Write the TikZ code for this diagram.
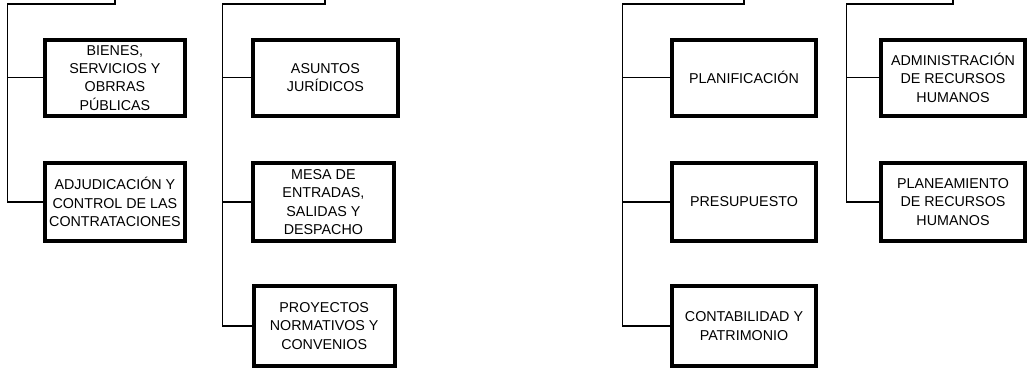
\documentclass[tikz,border=0pt]{standalone}
\usepackage{fontspec}
\setmainfont{Liberation Sans}
\begin{document}
\begin{tikzpicture}[x=1pt,y=1pt,
  unitbox/.style={draw=black, line width=4pt, rectangle, inner sep=0pt,
    minimum height=78pt, align=center,
    font=\fontsize{14.3}{18.3}\selectfont},
  wire/.style={draw=black, line width=1.3pt}]
\useasboundingbox (0,0) rectangle (1027,369);
% column 1
\node[unitbox, minimum width=140pt, minimum height=76.5pt] (b1) at (114.9,291.2) {BIENES,\\SERVICIOS Y\\OBRRAS\\PÚBLICAS};
\node[unitbox, minimum width=140pt] (b2) at (114.9,167) {ADJUDICACIÓN Y\\CONTROL DE LAS\\CONTRATACIONES};
% column 2
\node[unitbox, minimum width=145pt, minimum height=76.5pt] (c1) at (325.4,291.2) {ASUNTOS\\JURÍDICOS};
\node[unitbox, minimum width=141.5pt] (c2) at (323.4,167) {MESA DE\\ENTRADAS,\\SALIDAS Y\\DESPACHO};
\node[unitbox, minimum width=141pt, minimum height=79.5pt] (c3) at (324.2,43) {PROYECTOS\\NORMATIVOS Y\\CONVENIOS};
% column 3
\node[unitbox, minimum width=144pt, minimum height=76.5pt] (d1) at (744,291.2) {PLANIFICACIÓN};
\node[unitbox, minimum width=144pt] (d2) at (744,167) {PRESUPUESTO};
\node[unitbox, minimum width=144pt, minimum height=79.5pt] (d3) at (744,43) {CONTABILIDAD Y\\PATRIMONIO};
% column 4
\node[unitbox, minimum width=144pt, minimum height=76.5pt] (e1) at (953,291.2) {ADMINISTRACIÓN\\DE RECURSOS\\HUMANOS};
\node[unitbox, minimum width=144pt] (e2) at (953,167) {PLANEAMIENTO\\DE RECURSOS\\HUMANOS};
% trunk coordinates
\coordinate (t1) at (115,369);   \coordinate (v1) at (7.3,365);
\coordinate (t2) at (325,369);   \coordinate (v2) at (222.7,365);
\coordinate (t3) at (744,369);   \coordinate (v3) at (622.7,365);
\coordinate (t4) at (953,369);   \coordinate (v4) at (846.7,365);
% connectors
\draw[wire] (t1) |- (v1) |- (b2.west);
\draw[wire] (v1 |- b1.west) -- (b1.west);
\draw[wire] (t2) |- (v2) |- (c3.west);
\draw[wire] (v2 |- c1.west) -- (c1.west);
\draw[wire] (v2 |- c2.west) -- (c2.west);
\draw[wire] (t3) |- (v3) |- (d3.west);
\draw[wire] (v3 |- d1.west) -- (d1.west);
\draw[wire] (v3 |- d2.west) -- (d2.west);
\draw[wire] (t4) |- (v4) |- (e2.west);
\draw[wire] (v4 |- e1.west) -- (e1.west);
\end{tikzpicture}
\end{document}
